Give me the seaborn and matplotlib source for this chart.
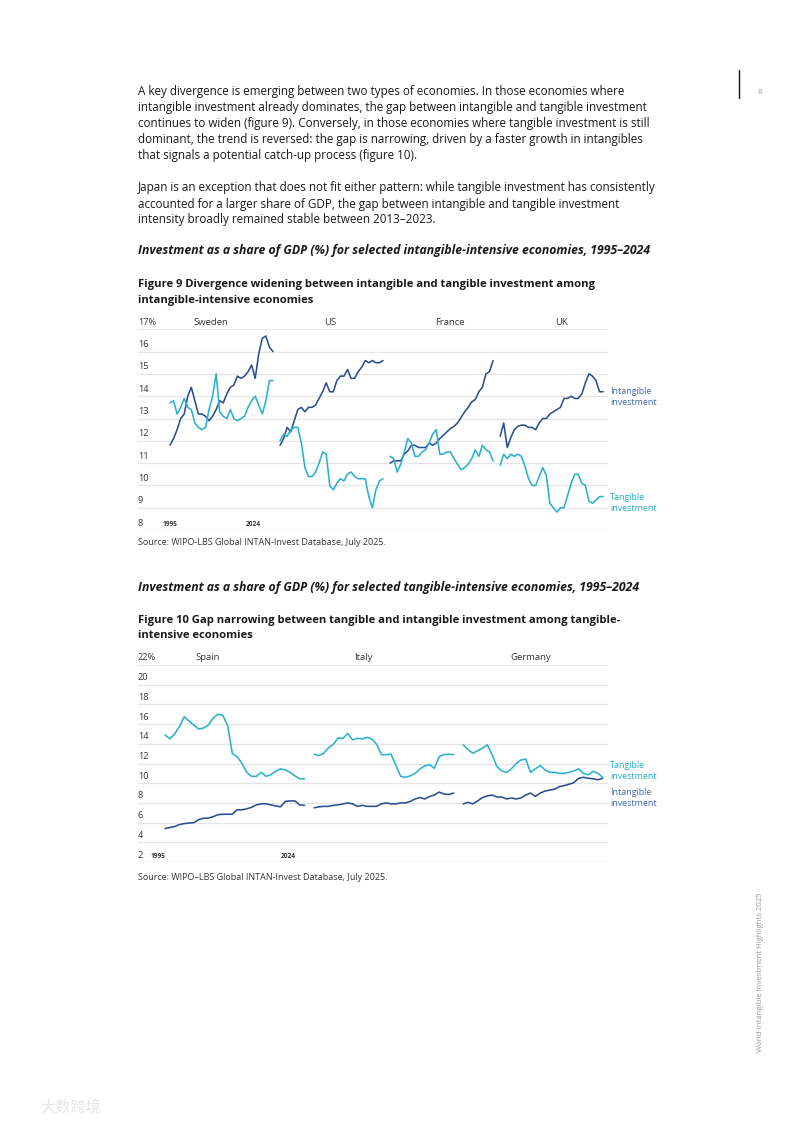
import matplotlib
matplotlib.use("Agg")
import matplotlib.pyplot as plt
import matplotlib.transforms as mtransforms
import seaborn as sns
import pandas as pd
import numpy as np

# Dados (1995-2024, 30 anos por país)
anos = list(range(1995, 2025))

paises_fig9 = ["Sweden", "US", "France", "UK"]
intang_fig9 = {
    "Sweden": [11.8, 12.1, 12.5, 13.0, 13.2, 14.0, 14.4, 13.8, 13.2, 13.2, 13.1, 12.9, 13.1, 13.4, 13.8,
               13.7, 14.1, 14.4, 14.5, 14.9, 14.8, 14.9, 15.1, 15.4, 14.8, 15.9, 16.6, 16.7, 16.2, 16.0],
    "US": [11.8, 12.1, 12.6, 12.4, 12.9, 13.4, 13.5, 13.3, 13.5, 13.5, 13.6, 13.9, 14.2, 14.6, 14.2,
           14.2, 14.7, 14.9, 14.9, 15.2, 14.8, 14.8, 15.1, 15.3, 15.6, 15.5, 15.6, 15.5, 15.5, 15.6],
    "France": [11.0, 11.1, 11.1, 11.1, 11.4, 11.55, 11.8, 11.8, 11.7, 11.7, 11.7, 11.9, 11.8, 11.9, 12.1,
               12.25, 12.4, 12.55, 12.65, 12.8, 13.05, 13.3, 13.5, 13.75, 13.85, 14.2, 14.4, 15.0, 15.1, 15.6],
    "UK": [12.2, 12.8, 11.7, 12.15, 12.5, 12.65, 12.7, 12.7, 12.6, 12.6, 12.5, 12.8, 13.0, 13.0, 13.2,
           13.3, 13.4, 13.5, 13.9, 13.9, 14.0, 13.9, 13.9, 14.1, 14.6, 15.0, 14.9, 14.7, 14.2, 14.2],
}
tang_fig9 = {
    "Sweden": [13.7, 13.8, 13.2, 13.5, 13.9, 13.5, 13.4, 12.8, 12.6, 12.5, 12.6, 13.4, 14.0, 15.0, 13.3,
               13.1, 13.0, 13.4, 13.0, 12.9, 13.0, 13.1, 13.5, 13.8, 14.0, 13.6, 13.2, 13.8, 14.7, 14.7],
    "US": [12.0, 12.3, 12.2, 12.5, 12.6, 12.6, 11.9, 10.8, 10.4, 10.4, 10.6, 11.0, 11.5, 11.4, 10.0,
           9.8, 10.1, 10.3, 10.2, 10.5, 10.6, 10.4, 10.3, 10.3, 10.3, 9.5, 9.0, 9.8, 10.2, 10.3],
    "France": [11.3, 11.2, 10.6, 10.95, 11.5, 12.1, 11.9, 11.3, 11.3, 11.5, 11.6, 11.9, 12.3, 12.5, 11.4,
               11.4, 11.5, 11.5, 11.2, 10.95, 10.7, 10.8, 10.95, 11.2, 11.6, 11.3, 11.8, 11.6, 11.5, 11.1],
    "UK": [10.9, 11.4, 11.2, 11.4, 11.3, 11.4, 11.3, 10.85, 10.3, 10.0, 10.0, 10.4, 10.8, 10.45, 9.2,
           9.0, 8.8, 9.0, 9.0, 9.55, 10.1, 10.5, 10.5, 10.1, 10.0, 9.3, 9.2, 9.35, 9.5, 9.5],
}

paises_fig10 = ["Spain", "Italy", "Germany"]
tang_fig10 = {
    "Spain": [14.9, 14.5, 15.0, 15.75, 16.75, 16.3, 15.9, 15.5, 15.6, 15.9, 16.6, 17.0, 16.9, 15.9, 13.0,
              12.7, 12.0, 11.1, 10.7, 10.7, 11.1, 10.7, 10.85, 11.2, 11.45, 11.35, 11.1, 10.75, 10.45, 10.45],
    "Italy": [12.95, 12.8, 13.05, 13.6, 13.95, 14.6, 14.55, 15.05, 14.4, 14.55, 14.5, 14.65, 14.5, 13.95, 12.9,
              12.9, 12.95, 11.8, 10.7, 10.6, 10.75, 11.0, 11.45, 11.75, 11.9, 11.5, 12.7, 12.9, 12.95, 12.9],
    "Germany": [13.9, 13.4, 13.05, 13.3, 13.55, 13.9, 12.9, 11.7, 11.25, 11.1, 11.45, 12.0, 12.35, 12.45, 11.1,
                11.45, 11.8, 11.35, 11.1, 11.1, 11.0, 11.0, 11.1, 11.25, 11.45, 11.0, 10.85, 11.2, 11.0, 10.6],
}
intang_fig10 = {
    "Spain": [5.4, 5.5, 5.6, 5.8, 5.9, 5.95, 6.0, 6.3, 6.45, 6.45, 6.6, 6.8, 6.85, 6.85, 6.85,
              7.3, 7.3, 7.4, 7.55, 7.8, 7.9, 7.9, 7.8, 7.7, 7.6, 8.15, 8.2, 8.2, 7.8, 7.75],
    "Italy": [7.5, 7.6, 7.65, 7.65, 7.75, 7.8, 7.9, 8.0, 7.9, 7.65, 7.75, 7.65, 7.65, 7.65, 7.9,
              8.0, 7.9, 7.9, 8.0, 8.0, 8.15, 8.4, 8.55, 8.4, 8.65, 8.8, 9.1, 8.9, 8.85, 9.0],
    "Germany": [7.9, 8.05, 7.9, 8.2, 8.55, 8.7, 8.8, 8.6, 8.6, 8.4, 8.5, 8.4, 8.5, 8.8, 9.0,
                8.65, 9.0, 9.2, 9.3, 9.4, 9.65, 9.75, 9.9, 10.05, 10.5, 10.6, 10.5, 10.45, 10.35, 10.5],
}

azul = "#2b4f8f"
ciano = "#2ab2cc"
azul_txt = "#3a68ae"
ciano_txt = "#25a9c4"
cinza_grade = "#e5e5e5"
cor_texto = "#1a1a1a"

sns.set_theme(style="white")
plt.rcParams["font.family"] = ["Open Sans", "Noto Sans", "DejaVu Sans"]

W, H = 793, 1122
fig = plt.figure(figsize=(W / 100, H / 100), dpi=100)


def fx(px):
    return px / W


def fy(px):
    return 1 - px / H


def montar_df(paises, intang, tang):
    linhas = []
    for k, pais in enumerate(paises):
        for i, ano in enumerate(anos):
            x = k * 31 + i
            linhas.append({"x": x, "pais": pais, "serie": "Intangible", "valor": intang[pais][i]})
            linhas.append({"x": x, "pais": pais, "serie": "Tangible", "valor": tang[pais][i]})
    return pd.DataFrame(linhas)


def desenhar(ax, df, ymin, ymax, passo, titulos, anos_pos):
    sns.lineplot(data=df, x="x", y="valor", hue="serie", units="pais", estimator=None,
                 palette={"Intangible": azul, "Tangible": ciano}, lw=1.15, legend=False, ax=ax)
    ax.set_ylim(ymin, ymax)
    ticks = np.arange(ymin, ymax + 0.01, passo)
    ax.set_yticks(ticks)
    ax.set_yticklabels([])
    ax.set_xticks([])
    ax.set_xlabel("")
    ax.set_ylabel("")
    ax.tick_params(left=False, bottom=False)
    for s in ax.spines.values():
        s.set_visible(False)
    for t in ticks:
        ax.axhline(t, color=cinza_grade, lw=0.9, zorder=0)
    trans = mtransforms.blended_transform_factory(ax.transAxes, ax.transData)
    off = mtransforms.offset_copy(trans, fig=fig, y=2.5, units="dots")
    for t in ticks:
        rotulo = f"{int(t)}%" if t == ticks[-1] else f"{int(t)}"
        ax.text(0, t, rotulo, transform=off, ha="left", va="bottom", fontsize=6.6, color="#333333")
    off2 = mtransforms.offset_copy(ax.transData, fig=fig, y=2.5, units="dots")
    for nome, xpos in titulos:
        ax.text(xpos, ymax, nome, transform=off2, ha="center", va="bottom", fontsize=6.8, color="#333333")
    for rot, xpos in anos_pos:
        ax.text(xpos, ymin, rot, transform=off2, ha="center", va="bottom", fontsize=4.7,
                color="#333333", fontweight="bold")


# Texto da página
paragrafo1 = [
    "A key divergence is emerging between two types of economies. In those economies where",
    "intangible investment already dominates, the gap between intangible and tangible investment",
    "continues to widen (figure 9). Conversely, in those economies where tangible investment is still",
    "dominant, the trend is reversed: the gap is narrowing, driven by a faster growth in intangibles",
    "that signals a potential catch-up process (figure 10).",
]
paragrafo2 = [
    "Japan is an exception that does not fit either pattern: while tangible investment has consistently",
    "accounted for a larger share of GDP, the gap between intangible and tangible investment",
    "intensity broadly remained stable between 2013\u20132023.",
]
for i, linha in enumerate(paragrafo1):
    fig.text(fx(138), fy(92 + 16 * i), linha, fontsize=8.36, color=cor_texto, va="center")
for i, linha in enumerate(paragrafo2):
    fig.text(fx(138), fy(188 + 16 * i), linha, fontsize=8.36, color=cor_texto, va="center")

fig.text(fx(138), fy(251), "Investment as a share of GDP (%) for selected intangible-intensive economies, 1995\u20132024",
         fontsize=8.8, fontweight="bold", fontstyle="italic", color=cor_texto, va="center")
fig.text(fx(138), fy(284), "Figure 9 Divergence widening between intangible and tangible investment among",
         fontsize=8.15, fontweight="bold", color=cor_texto, va="center")
fig.text(fx(138), fy(300), "intangible-intensive economies",
         fontsize=8.15, fontweight="bold", color=cor_texto, va="center")

# Figura 9
passo9 = 3.55
x0_9 = 170
ax1 = fig.add_axes([fx(138), fy(530), fx(608) - fx(138), fy(329.3) - fy(530)])
df9 = montar_df(paises_fig9, intang_fig9, tang_fig9)
desenhar(ax1, df9, 8, 17, 1,
         [("Sweden", (211 - x0_9) / passo9), ("US", (330 - x0_9) / passo9),
          ("France", (450 - x0_9) / passo9), ("UK", (561 - x0_9) / passo9)],
         [("1995", 0), ("2024", (253.7 - x0_9) / passo9)])
ax1.set_xlim((138 - x0_9) / passo9, (608 - x0_9) / passo9)

fig.text(fx(610), fy(397), "Intangible\ninvestment", fontsize=6.4, color=azul_txt, va="center", linespacing=1.3)
fig.text(fx(610), fy(503), "Tangible\ninvestment", fontsize=6.4, color=ciano_txt, va="center", linespacing=1.3)
fig.text(fx(138), fy(543), "Source: WIPO-LBS Global INTAN-Invest Database, July 2025.",
         fontsize=6.5, color="#333333", va="center")

fig.text(fx(138), fy(587), "Investment as a share of GDP (%) for selected tangible-intensive economies, 1995\u20132024",
         fontsize=8.8, fontweight="bold", fontstyle="italic", color=cor_texto, va="center")
fig.text(fx(138), fy(620), "Figure 10 Gap narrowing between tangible and intangible investment among tangible-",
         fontsize=8.15, fontweight="bold", color=cor_texto, va="center")
fig.text(fx(138), fy(636), "intensive economies",
         fontsize=8.15, fontweight="bold", color=cor_texto, va="center")

# Figura 10
passo10 = 4.81
x0_10 = 165
ax2 = fig.add_axes([fx(138), fy(862), fx(608) - fx(138), fy(665) - fy(862)])
df10 = montar_df(paises_fig10, intang_fig10, tang_fig10)
desenhar(ax2, df10, 2, 22, 2,
         [("Spain", (208 - x0_10) / passo10), ("Italy", (363 - x0_10) / passo10),
          ("Germany", (531 - x0_10) / passo10)],
         [("1995", (158 - x0_10) / passo10), ("2024", (288 - x0_10) / passo10)])
ax2.set_xlim((138 - x0_10) / passo10, (608 - x0_10) / passo10)

fig.text(fx(610), fy(771), "Tangible\ninvestment", fontsize=6.4, color=ciano_txt, va="center", linespacing=1.3)
fig.text(fx(610), fy(798), "Intangible\ninvestment", fontsize=6.4, color=azul_txt, va="center", linespacing=1.3)
fig.text(fx(138), fy(878), "Source: WIPO\u2013LBS Global INTAN-Invest Database, July 2025.",
         fontsize=6.5, color="#333333", va="center")

# Cabeçalho / rodapé
fig.add_artist(plt.Line2D([fx(739), fx(739)], [fy(70), fy(98)], color="#111111", lw=1.0))
fig.text(fx(760), fy(93), "8", fontsize=5.8, color="#999999", ha="center", va="center")
fig.text(fx(760), fy(972), "World Intangible Investment Highlights 2025", fontsize=5.6, color="#999999",
         rotation=90, ha="center", va="center")
fig.text(fx(40), fy(1107), "大数跨境", fontsize=11, color="#e6e6e6", ha="left", va="center",
         family=["Noto Sans CJK SC", "DejaVu Sans"])

plt.savefig("out.png", dpi=100)
